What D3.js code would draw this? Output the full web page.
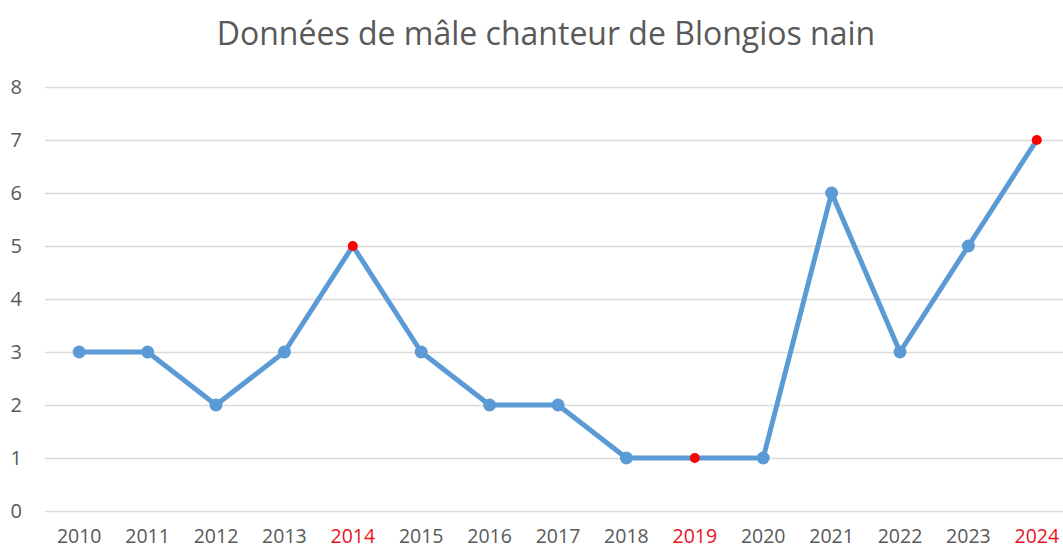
<!DOCTYPE html>
<html>
<head>
<meta charset="utf-8">
<script src="https://cdn.jsdelivr.net/npm/d3@7"></script>
<style>
  body { margin: 0; background: #fff; }
  svg text { font-family: "Open Sans", "Noto Sans", sans-serif; }
</style>
</head>
<body>
<svg id="chart" width="1063" height="551"></svg>
<script>
const years = ['2010', '2011', '2012', '2013', '2014', '2015', '2016', '2017',
  '2018', '2019', '2020', '2021', '2022', '2023', '2024'];
const males = [3, 3, 2, 3, 5, 3, 2, 2, 1, 1, 1, 6, 3, 5, 7];
const highlighted = ['2014', '2019', '2024']; // red markers + red labels
const yTicks = [0, 1, 2, 3, 4, 5, 6, 7, 8];
const title = 'Données de mâle chanteur de Blongios nain';

const svg = d3.select('#chart');
const margin = {top: 87, left: 45, bottom: 40};
const height = 551;

const x = d3.scaleBand()
    .domain(years)
    .range([margin.left, margin.left + years.length * 68.4]);

const y = d3.scaleLinear()
    .domain([0, 8])
    .range([height - margin.bottom, margin.top]);

svg.append('text')
    .attr('x', 546)
    .attr('y', 45)
    .attr('text-anchor', 'middle')
    .attr('fill', '#595959')
    .style('font-size', '32px')
    .text(title);

// gridlines
const yAxis = svg.append('g')
    .attr('transform', `translate(${margin.left},0)`)
    .call(d3.axisLeft(y).tickValues(yTicks).tickSize(-1063).tickPadding(23));
yAxis.select('.domain').remove();
yAxis.selectAll('.tick line').attr('stroke', '#dadada').attr('stroke-width', 1.5);
yAxis.selectAll('.tick text')
    .attr('fill', '#595959')
    .style('font-size', '20px');

const xAxis = svg.append('g')
    .attr('transform', `translate(0,${y(0)})`)
    .call(d3.axisBottom(x).tickSize(0).tickPadding(18));
xAxis.select('.domain').remove();
xAxis.selectAll('.tick text')
    .attr('fill', d => highlighted.includes(d) ? '#e8141e' : '#595959')
    .style('font-size', '19.5px');

const cx = d => x(d) + x.bandwidth() / 2;

const line = d3.line()
    .x((d, i) => cx(years[i]))
    .y(d => y(d));

svg.append('path')
    .datum(males)
    .attr('fill', 'none')
    .attr('stroke', '#5b9bd5')
    .attr('stroke-width', 5)
    .attr('stroke-linejoin', 'round')
    .attr('d', line);

svg.selectAll('.pt')
    .data(males)
    .join('circle')
    .attr('class', 'pt')
    .attr('cx', (d, i) => cx(years[i]))
    .attr('cy', d => y(d))
    .attr('r', (d, i) => highlighted.includes(years[i]) ? 5 : 6.5)
    .attr('fill', (d, i) => highlighted.includes(years[i]) ? '#ff0000' : '#5b9bd5');
</script>
</body>
</html>
